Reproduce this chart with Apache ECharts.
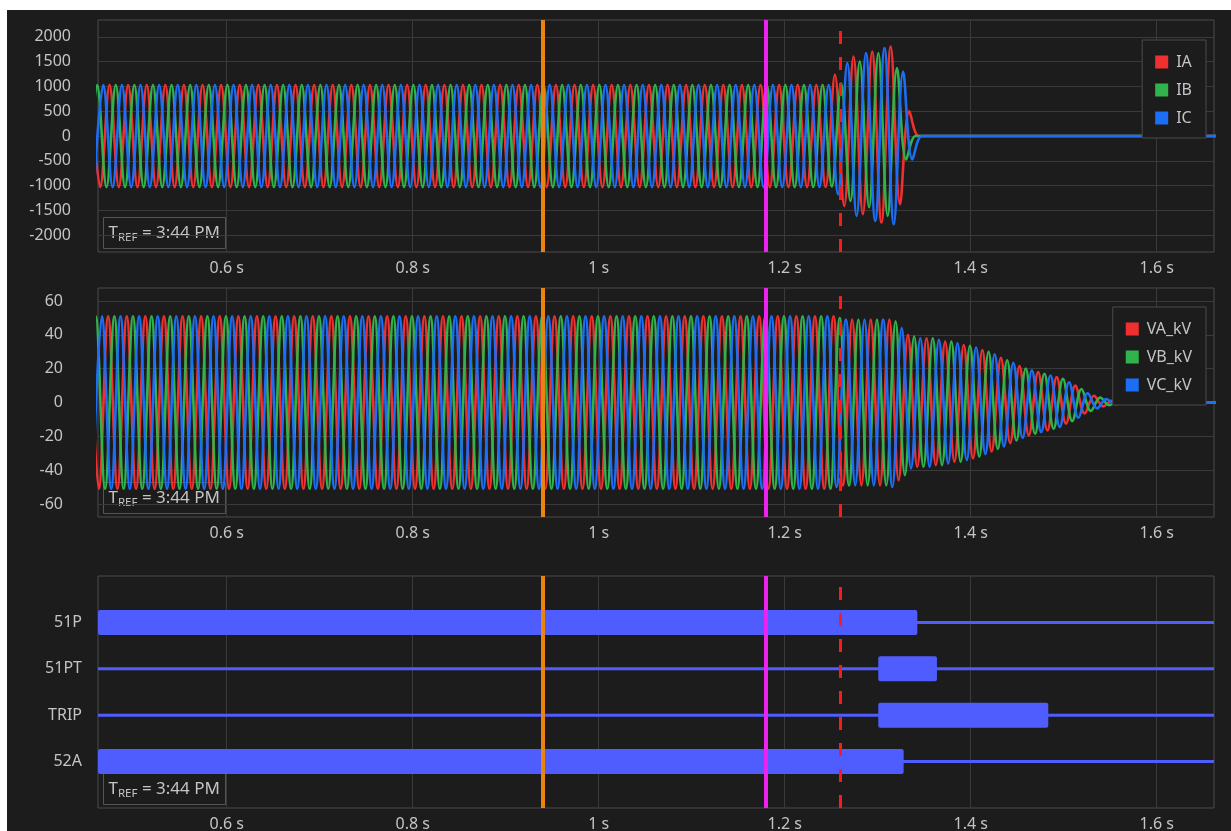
<!DOCTYPE html>
<html><head><meta charset="utf-8">
<script src="https://cdn.jsdelivr.net/npm/echarts@6/dist/echarts.min.js"></script>
<style>
html,body{margin:0;padding:0;background:#fff;overflow:hidden;}
#c{position:absolute;left:0;top:0;width:1231px;height:831px;}
#wt{position:absolute;left:0;top:0;width:1231px;height:10px;background:#fff;}
#wl{position:absolute;left:0;top:0;width:7px;height:831px;background:#fff;}
</style></head><body>
<div id="c"></div><div id="wt"></div><div id="wl"></div>
<script>
// ---------------- data ----------------
const timeMin = 0.4616, timeMax = 1.6616;
const timeTicks = [0.6, 0.8, 1.0, 1.2, 1.4, 1.6];
const currentTicks = [-2000, -1500, -1000, -500, 0, 500, 1000, 1500, 2000];
const voltageTicks = [-60, -40, -20, 0, 20, 40, 60];
const halfCycle = 0.01;               // spacing of successive half-cycle peaks (50 Hz)
const currentNames = ['IA', 'IB', 'IC'];
const voltageNames = ['VA_kV', 'VB_kV', 'VC_kV'];
const currentStart = [0.4540, 0.4507, 0.4573];   // time of first listed peak
const voltageStart = [0.4525, 0.4492, 0.4558];

// half-cycle peak values read from the record
const IA = [
 1030,-1030,1030,-1030,1030,-1030,1030,-1030,1030,-1030,1030,-1030,1030,-1030,1030,-1030,1030,-1030,1030,-1030,
 1030,-1030,1030,-1030,1030,-1030,1030,-1030,1030,-1030,1030,-1030,1030,-1030,1030,-1030,1030,-1030,1030,-1030,
 1030,-1030,1030,-1030,1030,-1030,1030,-1030,1030,-1030,1030,-1030,1030,-1030,1030,-1030,1030,-1030,1030,-1030,
 1030,-1030,1030,-1030,1030,-1030,1030,-1030,1030,-1030,1030,-1030,1030,-1030,1030,-1030,1030,-1030,1030,-1030,
 1236,-1411,1604,-1578,1705,-1745,1805,-1377,500,
 0,0,0,0,0,0,0,0,0,0,0,0,0,0,0,0,0,0,0,0,0,0,0,0,0,0,0,0,0,0,0,0,0,0,0,0,0,0,0,0
];
const IB = [
 -1030,1030,-1030,1030,-1030,1030,-1030,1030,-1030,1030,-1030,1030,-1030,1030,-1030,1030,-1030,1030,-1030,1030,
 -1030,1030,-1030,1030,-1030,1030,-1030,1030,-1030,1030,-1030,1030,-1030,1030,-1030,1030,-1030,1030,-1030,1030,
 -1030,1030,-1030,1030,-1030,1030,-1030,1030,-1030,1030,-1030,1030,-1030,1030,-1030,1030,-1030,1030,-1030,1030,
 -1030,1030,-1030,1030,-1030,1030,-1030,1030,-1030,1030,-1030,1030,-1030,1030,-1030,1030,-1030,1030,-1030,1030,
 -1020,1060,-1310,1504,-1437,1672,-1612,1370,-472,
 0,0,0,0,0,0,0,0,0,0,0,0,0,0,0,0,0,0,0,0,0,0,0,0,0,0,0,0,0,0,0,0,0,0,0,0,0,0,0,0
];
const IC = [
 -1030,1030,-1030,1030,-1030,1030,-1030,1030,-1030,1030,-1030,1030,-1030,1030,-1030,1030,-1030,1030,-1030,1030,
 -1030,1030,-1030,1030,-1030,1030,-1030,1030,-1030,1030,-1030,1030,-1030,1030,-1030,1030,-1030,1030,-1030,1030,
 -1030,1030,-1030,1030,-1030,1030,-1030,1030,-1030,1030,-1030,1030,-1030,1030,-1030,1030,-1030,1030,-1030,1030,
 -1030,1030,-1030,1030,-1030,1030,-1030,1030,-1030,1030,-1030,1030,-1030,1030,-1030,1030,-1030,1030,-1030,1030,
 -1176,1470,-1612,1672,-1712,1772,-1779,1302,-472,
 0,0,0,0,0,0,0,0,0,0,0,0,0,0,0,0,0,0,0,0,0,0,0,0,0,0,0,0,0,0,0,0,0,0,0,0,0,0,0,0
];
const VA = [
 51,-51,51,-51,51,-51,51,-51,51,-51,51,-51,51,-51,51,-51,51,-51,51,-51,
 51,-51,51,-51,51,-51,51,-51,51,-51,51,-51,51,-51,51,-51,51,-51,51,-51,
 51,-51,51,-51,51,-51,51,-51,51,-51,51,-51,51,-51,51,-51,51,-51,51,-51,
 51,-51,51,-51,51,-51,51,-51,51,-51,51,-51,51,-51,51,-51,51,-51,51,-51,
 51,
 -49,49,-49,49,-49,49,-46,40,-38,38,-37,36,-35,34,-33,31,-29,26.5,-24,21.5,
 -19.5,18,-16.5,15,-12.5,10,-6.5,4,-2.3,1.2,-0.5,0.15,
 0,0,0,0,0,0,0,0,0,0,0,0
];
const VB = [
 -51,51,-51,51,-51,51,-51,51,-51,51,-51,51,-51,51,-51,51,-51,51,-51,51,
 -51,51,-51,51,-51,51,-51,51,-51,51,-51,51,-51,51,-51,51,-51,51,-51,51,
 -51,51,-51,51,-51,51,-51,51,-51,51,-51,51,-51,51,-51,51,-51,51,-51,51,
 -51,51,-51,51,-51,51,-51,51,-51,51,-51,51,-51,51,-51,51,-51,51,-51,51,
 -51,
 50,-49,49,-49,49,-49,48,-43,39,-38,38,-37,36,-35,33.5,-32,30,-27.5,25,-22.5,
 20,-18.5,17,-15.5,14,-11,8,-5,3,-1.6,0.8,-0.3,
 0,0,0,0,0,0,0,0,0,0,0,0
];
const VC = [
 -51,51,-51,51,-51,51,-51,51,-51,51,-51,51,-51,51,-51,51,-51,51,-51,51,
 -51,51,-51,51,-51,51,-51,51,-51,51,-51,51,-51,51,-51,51,-51,51,-51,51,
 -51,51,-51,51,-51,51,-51,51,-51,51,-51,51,-51,51,-51,51,-51,51,-51,51,
 -51,51,-51,51,-51,51,-51,51,-51,51,-51,51,-51,51,-51,51,-51,51,-51,51,
 -50,
 49,-49,49,-49,49,-50,44,-39,38,-38,37,-36,35,-34,32.5,-30.5,28.5,-26,23.5,-21,
 19,-17.5,16,-14.5,12,-9,5.5,-3.5,2,-1,0.4,-0.1,
 0,0,0,0,0,0,0,0,0,0,0,0
];
const digitalNames = ['51P', '51PT', 'TRIP', '52A'];
const digitalOnStart = [0.4616, 1.3006, 1.3006, 0.4616];
const digitalOnEnd = [1.3426, 1.3637, 1.4834, 1.3279];
const cursorTimes = [0.9409, 1.1795, 1.2598];
const trefText = '3:44 PM';

// ---------------- chart ----------------
const FONT = '"Noto Sans", "Open Sans", sans-serif';
const TXT = '#c4c4c4';
const GRIDLINE = '#3a3a3a';
const BORDER = '#4a4a4a';
const BG = '#1c1c1c';
const phaseColors = ['#f03030', '#30b34a', '#1b6ef5'];
const digitalColor = '#4f5dff';

function toPoints(start, values) { return values.map((v, i) => [start + i * halfCycle, v]); }

const grids = [
  {top: 20, height: 232}, {top: 288, height: 229}, {top: 576, height: 232}
].map(g => Object.assign({left: 98, width: 1116, show: true, borderColor: BORDER, borderWidth: 1,
  backgroundColor: 'transparent', containLabel: false, outerBoundsMode: 'none'}, g));

function timeAxis(gi) {
  return {type: 'value', gridIndex: gi, min: timeMin, max: timeMax,
    axisLine: {show: false}, axisTick: {show: false, customValues: timeTicks},
    axisLabel: {customValues: timeTicks, formatter: v => (+v.toFixed(1)) + ' s',
      color: TXT, fontSize: 16, fontFamily: FONT, margin: 8},
    splitLine: {show: true, lineStyle: {color: GRIDLINE, width: 1}}};
}

const markers = {
  silent: true, symbol: ['none', 'none'], label: {show: false}, animation: false, z: 5,
  data: [
    {xAxis: cursorTimes[0], lineStyle: {color: '#ea8410', width: 4, type: 'solid'}},
    {xAxis: cursorTimes[1], lineStyle: {color: '#ee22ee', width: 4, type: 'solid'}},
    {xAxis: cursorTimes[2], lineStyle: {color: '#ff1a1a', width: 3, type: [13, 13]}}
  ]
};

function waveSeries(name, i, gi, start, values) {
  const s = {type: 'line', name, xAxisIndex: gi, yAxisIndex: gi, data: toPoints(start, values),
    showSymbol: false, symbol: 'none', smooth: 0.36, clip: true, animation: false,
    lineStyle: {width: 2.6, color: phaseColors[i]}, itemStyle: {color: phaseColors[i]}};
  if (i === 0) s.markLine = markers;
  return s;
}

function legendFor(names, top) {
  return {data: names, orient: 'vertical', right: 25, top, padding: [14, 14, 12, 13], itemGap: 12,
    itemWidth: 13, itemHeight: 13, icon: 'rect', borderColor: BORDER, borderWidth: 1,
    backgroundColor: BG, textStyle: {color: TXT, fontSize: 16, fontFamily: FONT, padding: [0, 0, 0, 3]},
    selectedMode: false};
}

function trefBox(bottom) {
  return {type: 'group', left: 103, top: bottom - 35, children: [
    {type: 'rect', shape: {x: 0, y: 0, width: 122, height: 31},
      style: {fill: BG, stroke: '#555555', lineWidth: 1}},
    {type: 'text', x: 5, y: 16, style: {
      text: '{t|T}{s|REF}{t| = ' + trefText + '}', verticalAlign: 'middle',
      rich: {t: {fontSize: 17, fill: TXT, fontFamily: FONT, verticalAlign: 'bottom'},
             s: {fontSize: 11.5, fill: TXT, fontFamily: FONT, verticalAlign: 'bottom', padding: [0, 0, -2, 0]}}}}
  ]};
}

const option = {
  backgroundColor: BG,
  animation: false,
  grid: grids,
  xAxis: [timeAxis(0), timeAxis(1), timeAxis(2)],
  yAxis: [
    {type: 'value', gridIndex: 0, min: -2340, max: 2340, axisLine: {show: false},
      axisTick: {show: false, customValues: currentTicks},
      axisLabel: {customValues: currentTicks, color: TXT, fontSize: 16, fontFamily: FONT, margin: 27,
        formatter: v => String(v)},
      splitLine: {show: true, lineStyle: {color: GRIDLINE}}},
    {type: 'value', gridIndex: 1, min: -67.7, max: 67.7, axisLine: {show: false},
      axisTick: {show: false, customValues: voltageTicks},
      axisLabel: {customValues: voltageTicks, color: TXT, fontSize: 16, fontFamily: FONT, margin: 35,
        formatter: v => String(v)},
      splitLine: {show: true, lineStyle: {color: GRIDLINE}}},
    {type: 'value', gridIndex: 2, min: -1, max: 4, axisLine: {show: false},
      axisTick: {show: false, customValues: [0, 1, 2, 3]},
      axisLabel: {customValues: [0, 1, 2, 3], color: TXT, fontSize: 16, fontFamily: FONT, margin: 16,
        formatter: v => digitalNames[digitalNames.length - 1 - v] || ''},
      splitLine: {show: false}}
  ],
  legend: [legendFor(currentNames, 40), legendFor(voltageNames, 307)],
  series: [
    waveSeries(currentNames[0], 0, 0, currentStart[0], IA),
    waveSeries(currentNames[1], 1, 0, currentStart[1], IB),
    waveSeries(currentNames[2], 2, 0, currentStart[2], IC),
    waveSeries(voltageNames[0], 0, 1, voltageStart[0], VA),
    waveSeries(voltageNames[1], 1, 1, voltageStart[1], VB),
    waveSeries(voltageNames[2], 2, 1, voltageStart[2], VC),
    {type: 'custom', name: 'digital', xAxisIndex: 2, yAxisIndex: 2, animation: false,
      encode: {x: [1, 2], y: 0},
      data: digitalNames.map((n, i) => [digitalNames.length - 1 - i, digitalOnStart[i], digitalOnEnd[i]]),
      renderItem: (params, api) => {
        const lvl = api.value(0);
        const p1 = api.coord([api.value(1), lvl]);
        const p2 = api.coord([api.value(2), lvl]);
        const cs = params.coordSys;
        const x1 = Math.max(p1[0], cs.x), x2 = Math.min(p2[0], cs.x + cs.width);
        return {type: 'group', children: [
          {type: 'rect', shape: {x: cs.x, y: p1[1] - 1.5, width: cs.width, height: 3},
            style: {fill: digitalColor}},
          {type: 'rect', shape: {x: x1, y: p1[1] - 12.5, width: x2 - x1, height: 25, r: 2},
            style: {fill: digitalColor}}
        ]};
      },
      markLine: markers}
  ],
  graphic: [trefBox(252), trefBox(517), trefBox(808)]
};
const chart = echarts.init(document.getElementById('c'));
chart.setOption(option);
</script></body></html>
